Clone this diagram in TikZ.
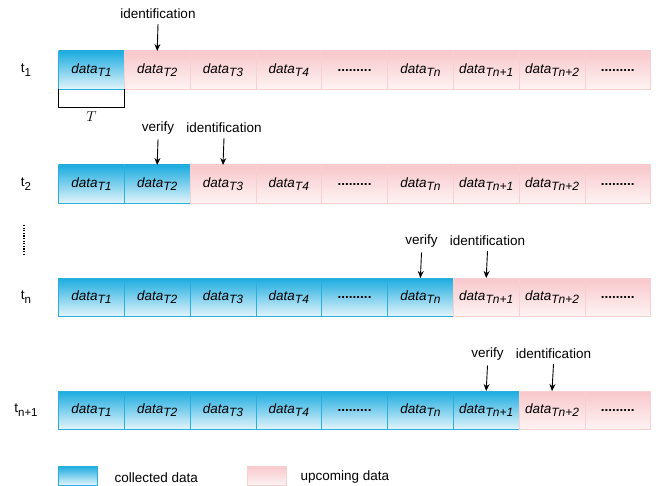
\documentclass[tikz,border=0pt]{standalone}
\usepackage{fontspec}
\setmainfont{Liberation Sans}
\usepackage{xcolor}
\usetikzlibrary{arrows.meta, positioning, calc}
\definecolor{cyanTop}{HTML}{1AABDF}
\definecolor{cyanBot}{HTML}{E2F4FB}
\definecolor{cyanLine}{HTML}{2AAEDD}
\definecolor{pinkTop}{HTML}{F8C7CB}
\definecolor{pinkBot}{HTML}{FEF3F3}
\definecolor{pinkLine}{HTML}{F7D0D2}
% data label with subscript
\newcommand{\dlab}[1]{\textit{data}\raisebox{-0.45ex}{\fontsize{12}{12}\selectfont\textit{#1}}}
\newcommand{\tlab}[1]{t\raisebox{-0.55ex}{\fontsize{11.5}{12}\selectfont #1}}
\newcommand{\skipdots}{\textbf{.........}}

\begin{document}
\begin{tikzpicture}[x=1pt, y=-1pt, font=\fontsize{13.5}{16}\selectfont,
            cell/.style={rectangle, minimum width=65.8pt, minimum height=38pt, inner sep=0pt, outer sep=0pt, line width=0.8pt},
            collected/.style={cell, draw=cyanLine, top color=cyanTop, bottom color=cyanBot},
            upcoming/.style={cell, draw=pinkLine, top color=pinkTop, bottom color=pinkBot},
            keybox/.style={rectangle, minimum width=39pt, minimum height=19pt, inner sep=0pt, line width=0.8pt},
            tag/.style={inner sep=1pt},
            mark line/.style={-{Stealth[length=7pt, width=6pt]}, line width=0.9pt}]

            \useasboundingbox (0,0) rectangle (666,486);

            % rows of data windows
            \foreach \r/\y/\k/\t in {1/70/1/1, 2/184/2/2, 3/297/6/n, 4/410/7/n+1} {
                \node[tag] (t\r) at (26,\y) {\tlab{\t}};
                \foreach \c/\lab in {1/{\dlab{T1}}, 2/{\dlab{T2}}, 3/{\dlab{T3}}, 4/{\dlab{T4}}, 5/{\skipdots},
                                     6/{\dlab{Tn}}, 7/{\dlab{Tn+1}}, 8/{\dlab{Tn+2}}, 9/{\skipdots}} {
                    \ifnum\c>\k \def\sty{upcoming}\else\def\sty{collected}\fi
                    \node[\sty] (r\r c\c) at ({58.5+65.8*(\c-0.5)},\y) {\lab};
                }
            }

            % window length
            \coordinate (wl) at ([yshift=-18pt]r1c1.south west);
            \coordinate (wr) at ([yshift=-18pt]r1c1.south east);
            \draw[line width=0.9pt] (r1c1.south west) -- (wl) -- (wr) -- (r1c1.south east);
            \node[below=1pt] (T) at ($(wl)!0.5!(wr)$) {$T$};

            % verify / identification marks
            \node[tag] (id1) at (158,14) {identification};
            \node[tag] (vf2) at (158,128) {verify};
            \node[tag] (id2) at (224,128) {identification};
            \node[tag] (vf3) at (421.5,241) {verify};
            \node[tag] (id3) at (487.5,241) {identification};
            \node[tag] (vf4) at (487.5,354) {verify};
            \node[tag] (id4) at (553.5,354) {identification};
            \draw[mark line] (id1.south) ++(0,4) -- (r1c2.north);
            \draw[mark line] (vf2.south) ++(0,4) -- (r2c2.north);
            \draw[mark line] (id2.south) ++(0,4) -- (r2c3.north);
            \draw[mark line] (vf3.south) ++(0,4) -- (r3c6.north);
            \draw[mark line] (id3.south) ++(0,4) -- (r3c7.north);
            \draw[mark line] (vf4.south) ++(0,4) -- (r4c7.north);
            \draw[mark line] (id4.south) ++(0,4) -- (r4c8.north);

            % skipped rows
            \draw[line width=1.3pt, dash pattern=on 1.3pt off 1.3pt] (24,225) -- (24,254);

            % legend
            \node[keybox, draw=cyanLine, top color=cyanTop, bottom color=cyanBot] (kc) at (77.5,475.5) {};
            \node[right=17pt of kc, inner sep=0pt, yshift=-2pt] (kct) {collected data};
            \node[keybox, draw=pinkLine, top color=pinkTop, bottom color=pinkBot] (ku) at (266.5,475.5) {};
            \node[right=14pt of ku, inner sep=0pt, yshift=-2pt] (kut) {upcoming data};
        \end{tikzpicture}
\end{document}
